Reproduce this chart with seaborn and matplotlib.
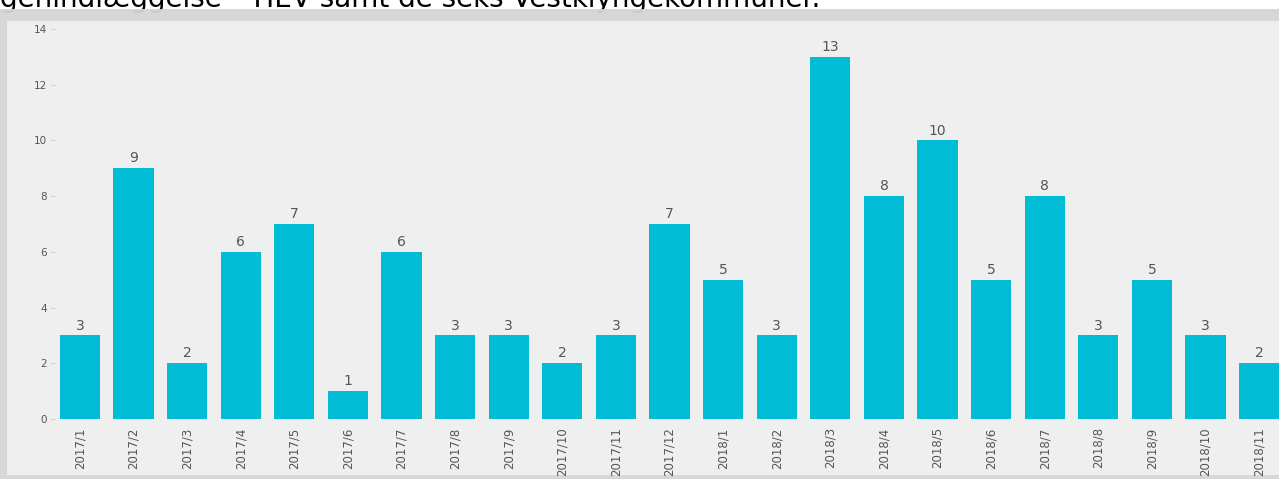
import matplotlib
matplotlib.use("Agg")
import matplotlib.pyplot as plt
from matplotlib.patches import Rectangle
import seaborn as sns
import pandas as pd

months = ["2017/1", "2017/2", "2017/3", "2017/4", "2017/5", "2017/6", "2017/7",
          "2017/8", "2017/9", "2017/10", "2017/11", "2017/12", "2018/1", "2018/2",
          "2018/3", "2018/4", "2018/5", "2018/6", "2018/7", "2018/8", "2018/9",
          "2018/10", "2018/11"]
counts = [3, 9, 2, 6, 7, 1, 6, 3, 3, 2, 3, 7, 5, 3, 13, 8, 10, 5, 8, 3, 5, 3, 2]
title_text = "genindlæggelse – HEV samt de seks Vestklyngekommuner."

sns.set_theme(style="white")
plt.rcParams['font.family'] = ['DejaVu Sans']

W, H = 1279, 479
fig = plt.figure(figsize=(W / 100, H / 100), dpi=100, facecolor="white")

def fx(px):
    return px / W

def fy(py):
    return 1 - py / H

# heading text, cut off at the top edge as in the screenshot
fig.text(fx(0), fy(7), title_text, fontsize=20, color="black",
         ha="left", va="baseline", zorder=1)

# gray frame and light panel
fig.patches.append(Rectangle((0, 0), 1, fy(9), transform=fig.transFigure,
                             facecolor="#d5d5d5", edgecolor="none", zorder=2, alpha=0.95))
fig.patches.append(Rectangle((fx(7), 1 - 475 / H), 1, (475 - 21) / H,
                             transform=fig.transFigure, facecolor="#efefef",
                             edgecolor="none", zorder=3))

ax = fig.add_axes([fx(55), 1 - 419 / H, fx(1279 - 55), (419 - 20) / H])
ax.set_facecolor("none")
ax.set_zorder(5)

df = pd.DataFrame({"month": months, "count": counts})
sns.barplot(data=df, x="month", y="count", color="#00BCD4", saturation=1,
            width=0.75, linewidth=0, ax=ax)
for c in ax.containers:
    ax.bar_label(c, labels=[str(v) for v in counts], padding=2,
                 fontsize=10, color="#555555")

ax.set_xlim(-0.466, 22.37)
ax.set_ylim(0, 14.32)
ax.set_yticks(range(0, 15, 2))
ax.set_xlabel("")
ax.set_ylabel("")
for s in ax.spines.values():
    s.set_visible(False)
ax.tick_params(axis="y", left=True, length=3, width=0.8, color="#cccccc",
               pad=3, labelsize=7.5, labelcolor="#555555")
ax.tick_params(axis="x", bottom=False, length=0, pad=6, labelsize=8.5,
               labelcolor="#555555", labelrotation=90)

fig.savefig("out.png", dpi=100, facecolor="white")
